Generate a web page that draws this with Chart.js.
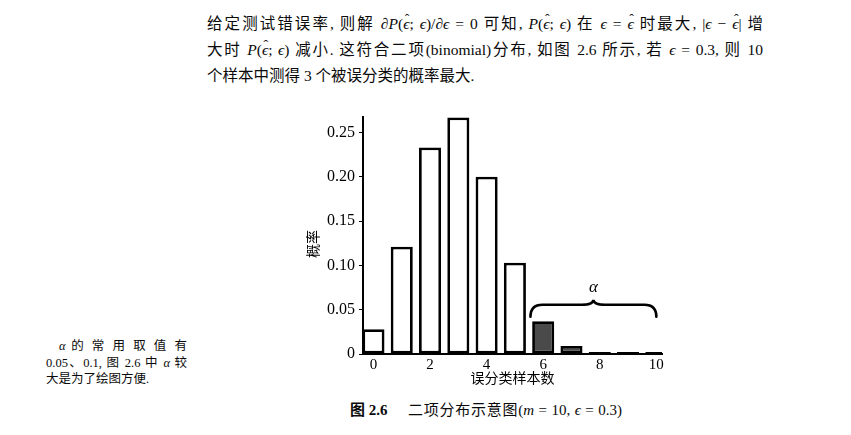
<!DOCTYPE html>
<html>
<head>
<meta charset="utf-8">
<script src="https://cdn.jsdelivr.net/npm/chart.js@4.4.1/dist/chart.umd.min.js"></script>
<style>
  html, body { margin: 0; padding: 0; background: #fff; }
  body { width: 851px; height: 435px; position: relative; overflow: hidden;
         font-family: "Liberation Serif", "Noto Sans CJK SC", serif; color: #0a0a0a; }
  #wrap { position: absolute; left: 0; top: 0; width: 851px; height: 435px; }
  .ln { position: absolute; white-space: nowrap; }
  .jt { text-align: justify; text-align-last: justify; white-space: normal; }
  .para { left: 207px; width: 556px; font-size: 15.5px; line-height: 26px; height: 26px; }
  .side { left: 46px; width: 141px; font-size: 12.5px; line-height: 16.5px; height: 16.5px; }
  i { font-style: italic; }
  .hat { position: relative; display: inline-block; font-style: italic; }
  .hat::after { content: "\02C6"; position: absolute; left: 0.12em; top: -0.28em; font-style: normal; font-size: 0.9em; }
  .cap { top: 400px; font-size: 15px; line-height: 20px; height: 20px; }
</style>
</head>
<body>
<div class="ln para jt" style="top:11px">给定测试错误率, 则解 ∂<i>P</i>(<span class="hat">ϵ</span>; <i>ϵ</i>)/∂<i>ϵ</i> = 0 可知, <i>P</i>(<span class="hat">ϵ</span>; <i>ϵ</i>) 在 <i>ϵ</i> = <span class="hat">ϵ</span> 时最大, |<i>ϵ</i> − <span class="hat">ϵ</span>| 增</div>
<div class="ln para jt" style="top:37px">大时 <i>P</i>(<span class="hat">ϵ</span>; <i>ϵ</i>) 减小. 这符合二项(binomial)分布, 如图 2.6 所示, 若 <i>ϵ</i> = 0.3, 则 10</div>
<div class="ln para" style="top:63px">个样本中测得 3 个被误分类的概率最大.</div>

<div class="ln side jt" style="top:338px; left:59px; width:128px"><i>α</i> 的 常 用 取 值 有</div>
<div class="ln side jt" style="top:355px">0.05、0.1, 图 2.6 中 <i>α</i> 较</div>
<div class="ln side" style="top:371px">大是为了绘图方便.</div>

<div class="ln cap" style="left:350px"><b>图 2.6</b></div>
<div class="ln cap jt" style="left:408px; width:214px">二项分布示意图(<i>m</i> = 10, <i>ϵ</i> = 0.3)</div>

<div id="wrap"><canvas id="c" width="851" height="435"></canvas></div>

<script>
// ---- data ----
const counts = [0, 1, 2, 3, 4, 5, 6, 7, 8, 9, 10];
const probs  = [0.028, 0.121, 0.233, 0.267, 0.200, 0.103, 0.037, 0.009, 0.0014, 0.0002, 0.0001];
const xTickValues = [0, 2, 4, 6, 8, 10];
const yTickValues = [0, 0.05, 0.10, 0.15, 0.20, 0.25];
const yTickLabels = ['0', '0.05', '0.10', '0.15', '0.20', '0.25'];
const xTitle = '误分类样本数';
const yTitle = '概率';
const alphaLabel = 'α';
const tailStart = 6;           // first count in the shaded tail (α region)
const braceFrom = 5.55, braceTo = 10.0, braceLevel = 0.042;

const serif = '"Liberation Serif", serif';
const cjk = '"Noto Sans CJK SC", sans-serif';

const braceAnnot = {
  id: 'brace',
  afterDatasetsDraw(chart) {
    const {ctx, scales: {x, y}} = chart;
    const x1 = x.getPixelForValue(braceFrom);
    const x2 = x.getPixelForValue(braceTo);
    const y0 = y.getPixelForValue(braceLevel);
    const xm = (x1 + x2) / 2;
    const h = 12, c = 5, q = 12;
    ctx.save();
    ctx.strokeStyle = '#000';
    ctx.lineWidth = 2.6;
    ctx.lineCap = 'round';
    ctx.beginPath();
    ctx.moveTo(x1, y0);
    ctx.quadraticCurveTo(x1, y0 - h, x1 + q, y0 - h);
    ctx.lineTo(xm - q, y0 - h);
    ctx.quadraticCurveTo(xm, y0 - h, xm, y0 - h - c);
    ctx.quadraticCurveTo(xm, y0 - h, xm + q, y0 - h);
    ctx.lineTo(x2 - q, y0 - h);
    ctx.quadraticCurveTo(x2, y0 - h, x2, y0);
    ctx.stroke();
    ctx.fillStyle = '#000';
    ctx.font = 'italic 17px ' + serif;
    ctx.textAlign = 'center';
    ctx.textBaseline = 'middle';
    ctx.fillText(alphaLabel, xm, y0 - h - c - 12);
    ctx.restore();
  }
};

new Chart(document.getElementById('c'), {
  type: 'bar',
  data: {
    datasets: [{
      data: counts.map((c, i) => ({x: c, y: probs[i]})),
      backgroundColor: counts.map(c => c >= tailStart ? '#4a4a4a' : '#ffffff'),
      borderColor: '#000',
      borderWidth: 2.8,
      borderSkipped: false,
      minBarLength: 2,
      categoryPercentage: 1,
      barPercentage: 0.78
    }]
  },
  options: {
    responsive: false,
    animation: false,
    devicePixelRatio: 1,
    layout: { padding: { left: 290, right: 189, top: 117, bottom: 49 } },
    plugins: { legend: { display: false }, tooltip: { enabled: false } },
    scales: {
      x: {
        type: 'linear',
        offset: false,
        min: -0.37, max: 10.2,
        afterBuildTicks: s => { s.ticks = xTickValues.map(v => ({value: v})); },
        afterFit: s => { s.height = 32; },
        grid: { display: false, drawTicks: false, offset: false },
        border: { display: true, color: '#000', width: 2 },
        ticks: { color: '#000', padding: 2, maxRotation: 0, autoSkip: false,
                 font: { family: serif, size: 15 } },
        title: { display: true, text: xTitle, color: '#000',
                 font: { family: cjk, size: 14 }, padding: { top: 0, bottom: 0 } }
      },
      y: {
        min: 0, max: 0.2675,
        afterBuildTicks: s => { s.ticks = yTickValues.map(v => ({value: v})); },
        afterFit: s => { s.width = 73; },
        grid: { drawOnChartArea: false, drawTicks: true, tickLength: 4, color: '#000', lineWidth: 1 },
        border: { display: true, color: '#000', width: 2 },
        ticks: { color: '#000', padding: 4,
                 callback: (v, i) => yTickLabels[i],
                 font: { family: serif, size: 16 } },
        title: { display: true, text: yTitle + '\u3000 ', color: '#000',
                 font: { family: cjk, size: 14 }, padding: { top: 14.6, bottom: 0 } }
      }
    }
  },
  plugins: [braceAnnot]
});
</script>
</body>
</html>
